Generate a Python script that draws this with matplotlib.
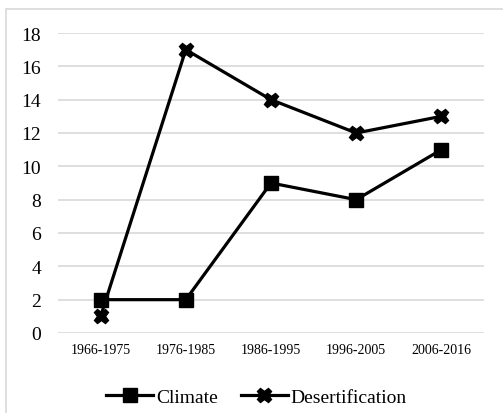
import matplotlib.pyplot as plt
from matplotlib.patches import Rectangle

# data
periods = ['1966-1975', '1976-1985', '1986-1995', '1996-2005', '2006-2016']
climate = [2, 2, 9, 8, 11]
desertification = [1, 17, 14, 12, 13]
yticks = [0, 2, 4, 6, 8, 10, 12, 14, 16, 18]

plt.rcParams['font.family'] = ['Liberation Serif', 'DejaVu Serif']

fig = plt.figure(figsize=(5.03, 4.14), dpi=100)
ax = fig.add_axes([58 / 503, 1 - 334 / 414, 426 / 503, 300 / 414])

# outer chart border (light grey, runs off right/bottom edge)
fig.patches.append(Rectangle((6 / 503, -0.1), 1.2, 1 - 10 / 414 + 0.1,
                             transform=fig.transFigure, fill=False,
                             edgecolor='#d9d9d9', linewidth=1.2))

x = range(len(periods))
ax.plot(x, climate, color='black', lw=2.3, marker='s', ms=9.5,
        label='Climate', zorder=3)
ax.plot(x, desertification, color='black', lw=2.3, marker='X', ms=10.5,
        label='Desertification', zorder=3)

ax.set_xlim(-0.5, len(periods) - 0.5)
ax.set_ylim(0, 18)
ax.set_yticks(yticks)
ax.set_xticks(list(x))
ax.set_xticklabels(periods, fontsize=10)
ax.tick_params(axis='y', labelsize=14, length=0, pad=12)
ax.tick_params(axis='x', length=0, pad=7)
ax.grid(axis='y', color='#d9d9d9', lw=1.2)
ax.set_axisbelow(True)
for s in ax.spines.values():
    s.set_visible(False)

fig.legend(loc='center', bbox_to_anchor=(0.51, 1 - 398 / 414), ncol=2,
           frameon=False, fontsize=14, handlelength=2.4, handletextpad=0.15,
           columnspacing=1.2)

fig.savefig('out.png', dpi=100)
